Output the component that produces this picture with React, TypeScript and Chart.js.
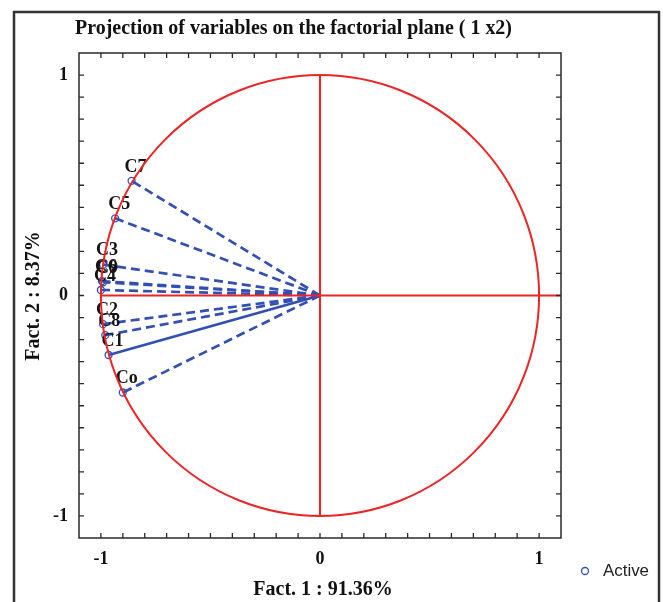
import { useEffect, useRef } from 'react';
import { Chart, registerables } from 'chart.js';

Chart.register(...registerables);

// ---- data ----
const variableNames = ['C7', 'C5', 'C3', 'C6', 'C9', 'C4', 'C2', 'C8', 'C1', 'Co'];
const fact1Values = [-0.86, -0.935, -0.99, -0.995, -0.99, -1.0, -0.99, -0.98, -0.965, -0.9];
const fact2Values = [0.52, 0.35, 0.14, 0.065, 0.06, 0.025, -0.13, -0.18, -0.27, -0.44];
const solidVariables = ['C1'];
const axisMin = -1.1;
const axisMax = 1.1;
const tickStep = 0.1;
const labelledTicks = [-1, 0, 1];
const titleText = 'Projection of variables on the factorial plane ( 1 x2)';
const xAxisTitle = 'Fact. 1 : 91.36%';
const yAxisTitle = 'Fact. 2 : 8.37%';
const legendLabel = 'Active';

const BLUE = 'rgb(50,80,180)';
const RED = 'rgb(238,36,36)';
const FRAME = '#2a2a2a';
const SERIF = '"Liberation Serif", "Times New Roman", serif';

function tickLabel(v: number): string {
  const r = Math.round(v * 10) / 10;
  for (const t of labelledTicks) {
    if (Math.abs(r - t) < 1e-9) return String(t);
  }
  return '';
}

const decorPlugin = {
  id: 'decor',
  beforeDraw(chart: any) {
    const ctx = chart.ctx;
    ctx.save();
    ctx.fillStyle = '#fff';
    ctx.fillRect(0, 0, chart.width, chart.height);
    ctx.strokeStyle = '#333';
    ctx.lineWidth = 2.5;
    ctx.strokeRect(14, 12, 645, 640);
    ctx.restore();
  },
  afterDatasetsDraw(chart: any) {
    const ctx = chart.ctx;
    const xs = chart.scales.x;
    const ys = chart.scales.y;
    const area = chart.chartArea;
    ctx.save();
    // variable labels
    ctx.font = `bold 18px ${SERIF}`;
    ctx.fillStyle = '#151515';
    ctx.textAlign = 'left';
    ctx.textBaseline = 'middle';
    variableNames.forEach((name, i) => {
      const px = xs.getPixelForValue(fact1Values[i]);
      const py = ys.getPixelForValue(fact2Values[i]);
      ctx.fillText(name, px - 7, py - 14);
    });
    // red unit circle and axes
    const cx = xs.getPixelForValue(0);
    const cy = ys.getPixelForValue(0);
    const rx = xs.getPixelForValue(1) - cx;
    const ry = cy - ys.getPixelForValue(1);
    ctx.strokeStyle = RED;
    ctx.lineWidth = 2;
    ctx.beginPath();
    ctx.ellipse(cx, cy, rx, ry, 0, 0, Math.PI * 2);
    ctx.stroke();
    ctx.beginPath();
    ctx.moveTo(xs.getPixelForValue(-1), cy);
    ctx.lineTo(xs.getPixelForValue(axisMax), cy);
    ctx.moveTo(cx, ys.getPixelForValue(-1));
    ctx.lineTo(cx, ys.getPixelForValue(1));
    ctx.stroke();
    // plot frame
    ctx.strokeStyle = FRAME;
    ctx.lineWidth = 1.5;
    ctx.strokeRect(area.left, area.top, area.right - area.left, area.bottom - area.top);
    // inside tick marks
    ctx.lineWidth = 1.3;
    ctx.beginPath();
    const n = Math.round((axisMax - axisMin) / tickStep);
    for (let k = 1; k < n; k++) {
      const v = axisMin + k * tickStep;
      const px = xs.getPixelForValue(v);
      const py = ys.getPixelForValue(v);
      ctx.moveTo(px, area.top);
      ctx.lineTo(px, area.top + 5);
      ctx.moveTo(px, area.bottom);
      ctx.lineTo(px, area.bottom - 5);
      ctx.moveTo(area.left, py);
      ctx.lineTo(area.left + 5, py);
      ctx.moveTo(area.right, py);
      ctx.lineTo(area.right - 5, py);
    }
    ctx.stroke();
    ctx.restore();
  },
  afterDraw(chart: any) {
    const ctx = chart.ctx;
    ctx.save();
    ctx.fillStyle = '#111';
    ctx.textBaseline = 'middle';
    ctx.textAlign = 'left';
    ctx.font = `bold 21px ${SERIF}`;
    ctx.fillText(titleText, 75, 29, 437);
    ctx.textAlign = 'center';
    ctx.font = `bold 20px ${SERIF}`;
    ctx.fillText(xAxisTitle, 323, 590, 150);
    ctx.save();
    ctx.translate(34, 296);
    ctx.rotate(-Math.PI / 2);
    ctx.fillText(yAxisTitle, 0, 0, 136);
    ctx.restore();
    // legend
    ctx.strokeStyle = BLUE;
    ctx.lineWidth = 1.3;
    ctx.beginPath();
    ctx.arc(585, 571, 3.5, 0, Math.PI * 2);
    ctx.stroke();
    ctx.fillStyle = '#222';
    ctx.textAlign = 'left';
    ctx.font = `17px "Liberation Sans", Arial, sans-serif`;
    ctx.fillText(legendLabel, 603, 571, 46);
    ctx.restore();
  },
};

export default function App() {
  const ref = useRef<HTMLCanvasElement | null>(null);
  useEffect(() => {
    if (!ref.current) return;
    const datasets = variableNames.map((name, i) => ({
      label: name,
      data: [
        { x: 0, y: 0 },
        { x: fact1Values[i], y: fact2Values[i] },
      ],
      showLine: true,
      borderColor: BLUE,
      borderWidth: 2.7,
      borderDash: solidVariables.includes(name) ? [] : [9, 5],
      pointRadius: [0, 3.5],
      pointBorderColor: BLUE,
      pointBackgroundColor: 'rgba(0,0,0,0)',
      pointBorderWidth: 1.3,
      fill: false,
    }));
    const tickFont = { family: SERIF, size: 18, weight: 'bold' as const };
    const chart = new Chart(ref.current, {
      type: 'scatter',
      data: { datasets },
      plugins: [decorPlugin],
      options: {
        responsive: false,
        animation: false,
        layout: { padding: { top: 53, left: 39, right: 102, bottom: 34 } },
        plugins: { legend: { display: false }, tooltip: { enabled: false }, title: { display: false } },
        scales: {
          x: {
            type: 'linear',
            min: axisMin,
            max: axisMax,
            afterFit: (s: any) => { s.height = 30; },
            ticks: {
              stepSize: tickStep,
              autoSkip: false,
              maxRotation: 0,
              padding: 11,
              color: '#111',
              font: tickFont,
              callback: (v: any) => tickLabel(Number(v)),
            },
            grid: { display: false, drawTicks: false },
            border: { display: false },
          },
          y: {
            type: 'linear',
            min: axisMin,
            max: axisMax,
            afterFit: (s: any) => { s.width = 40; },
            ticks: {
              stepSize: tickStep,
              autoSkip: false,
              padding: 11,
              color: '#111',
              font: tickFont,
              callback: (v: any) => tickLabel(Number(v)),
            },
            grid: { display: false, drawTicks: false },
            border: { display: false },
          },
        },
      },
    });
    return () => chart.destroy();
  }, []);
  return (
    <div style={{ position: 'absolute', left: 0, top: 0, width: 663, height: 602 }}>
      <canvas ref={ref} width={663} height={602} style={{ display: 'block' }} />
    </div>
  );
}
